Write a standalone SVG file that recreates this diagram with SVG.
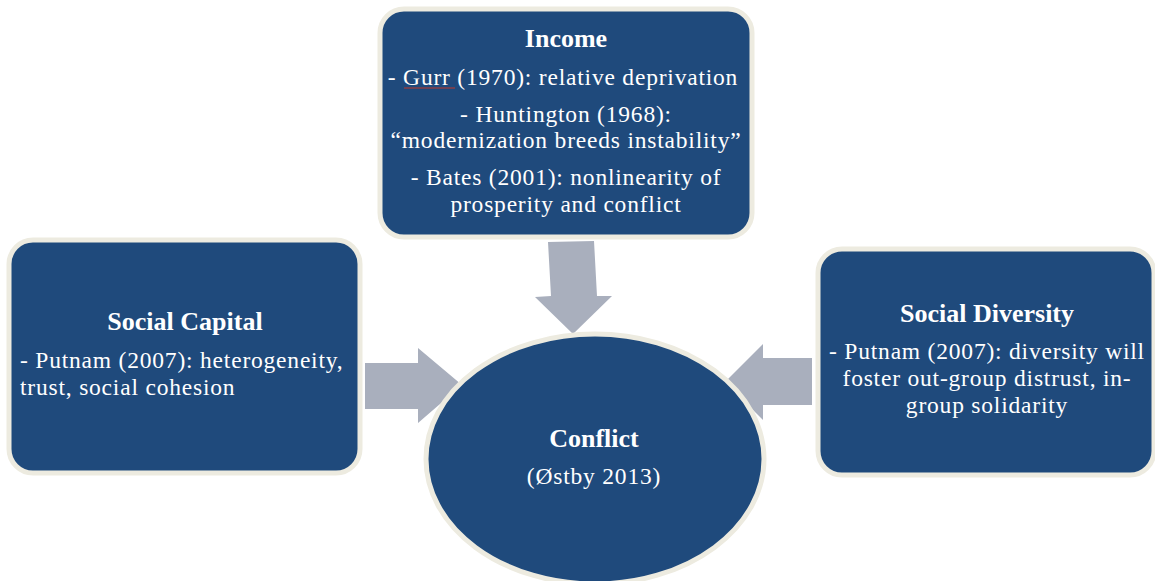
<svg xmlns="http://www.w3.org/2000/svg" width="1155" height="581" viewBox="0 0 1155 581">
<style>
.box{fill:#1F4A7C;stroke:#EDEBE0;stroke-width:5}
.arrow{fill:#A9AFBD}
.t{fill:#FFFFFF;font-size:23.5px;letter-spacing:0.8px}
.b{font-weight:bold;font-size:26px;letter-spacing:0}
.c{text-anchor:middle}
</style>
<rect width="1155" height="581" fill="#FFFFFF"/>
<g id="connectors">
<polygon class="arrow" points="548,242 594,241 597,296 612,296 573,334 535,297 551,296"/>
<polygon class="arrow" points="365,363 418,363 418,348 462,385 418,423 418,409 365,409"/>
<polygon class="arrow" points="812,358 763,358 763,344 725,382 763,420 763,405 812,405"/>
</g>
<g font-family="'Liberation Serif', 'DejaVu Serif', serif">
<g id="income">
<rect class="box" x="380" y="9" width="372" height="228" rx="24"/>
<text class="t b c" x="566" y="47">Income</text>
<text class="t c" x="563" y="85">- Gurr (1970): relative deprivation</text>
<path d="M404,88 L455,88" stroke="#C0392B" stroke-width="1" fill="none"/>
<text class="t c" x="566" y="122">- Huntington (1968):</text>
<text class="t c" x="566" y="148">“modernization breeds instability”</text>
<text class="t c" x="566" y="185">- Bates (2001): nonlinearity of</text>
<text class="t c" x="566" y="212">prosperity and conflict</text>
</g>
<g id="social-capital">
<rect class="box" x="9" y="240" width="351" height="233" rx="24"/>
<text class="t b c" x="185" y="330">Social Capital</text>
<text class="t" x="20" y="368">- Putnam (2007): heterogeneity,</text>
<text class="t" x="20" y="395">trust, social cohesion</text>
</g>
<g id="social-diversity">
<rect class="box" x="818" y="249" width="336" height="226" rx="24"/>
<text class="t b c" x="987" y="322">Social Diversity</text>
<text class="t c" x="987" y="359">- Putnam (2007): diversity will</text>
<text class="t c" x="987" y="386">foster out-group distrust, in-</text>
<text class="t c" x="987" y="413">group solidarity</text>
</g>
<g id="conflict">
<ellipse class="box" cx="595" cy="459" rx="169" ry="125"/>
<text class="t b c" x="594" y="447">Conflict</text>
<text class="t c" x="594" y="484">(Østby 2013)</text>
</g>
</g>
</svg>
